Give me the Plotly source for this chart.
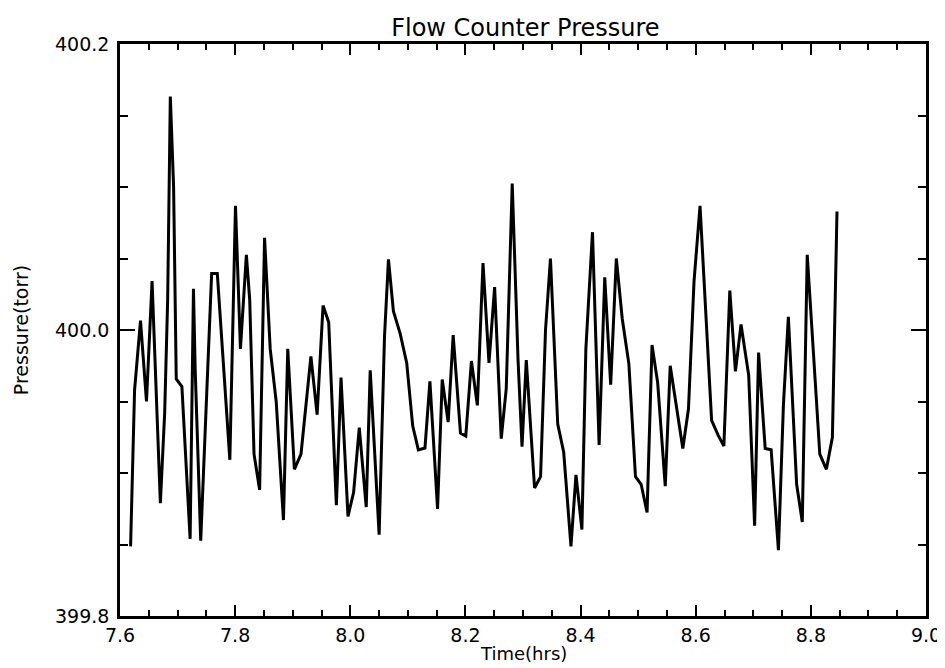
import plotly.graph_objects as go

time_hrs = [
    7.6184, 7.6253, 7.6356, 7.6460, 7.6557, 7.6701, 7.6776, 7.6828, 7.6874, 7.6931,
    7.6977, 7.7075, 7.7218, 7.7276, 7.7305, 7.7402, 7.7506, 7.7592, 7.7690, 7.7764,
    7.7908, 7.8006, 7.8092, 7.8195, 7.8253, 7.8328, 7.8425, 7.8511, 7.8609, 7.8713,
    7.8839, 7.8914, 7.9029, 7.9144, 7.9316,
    7.9424, 7.9527, 7.9625, 7.9758, 7.9839, 7.9960, 8.0058, 8.0156, 8.0277, 8.0346,
    8.0501, 8.0594, 8.0663, 8.0749, 8.0865, 8.0980, 8.1084, 8.1182, 8.1297, 8.1383,
    8.1516, 8.1597, 8.1700, 8.1787, 8.1914, 8.2006, 8.2104, 8.2207, 8.2305, 8.2409,
    8.2507, 8.2622, 8.2709, 8.2813,
    8.2914, 8.2983, 8.3057, 8.3201, 8.3305, 8.3391, 8.3477, 8.3603, 8.3707, 8.3833,
    8.3920, 8.4023, 8.4092, 8.4207, 8.4322, 8.4420, 8.4523, 8.4621, 8.4724, 8.4839,
    8.4954, 8.5052, 8.5155, 8.5241, 8.5339, 8.5471, 8.5557, 8.5672, 8.5776, 8.5874,
    8.5971, 8.6075, 8.6276, 8.6391,
    8.6489, 8.6592, 8.6690, 8.6787, 8.6920, 8.7023, 8.7092, 8.7207, 8.7310, 8.7437,
    8.7523, 8.7609, 8.7753, 8.7851, 8.7937, 8.8098, 8.8155, 8.8270, 8.8374, 8.8454,
]

pressure_torr = [
    399.8487, 399.9579, 400.0066, 399.9500, 400.0342, 399.8789, 399.9421, 400.0211, 400.1632, 400.1000,
    399.9658, 399.9605, 399.8539, 400.0289, 399.9737, 399.8526, 399.9553, 400.0395, 400.0395, 399.9947,
    399.9092, 400.0868, 399.9868, 400.0526, 400.0211, 399.9132, 399.8882, 400.0645, 399.9868, 399.9500,
    399.8671, 399.9868, 399.9026, 399.9132, 399.9816,
    399.9408, 400.0171, 400.0054, 399.8775, 399.9667, 399.8697, 399.8865, 399.9317, 399.8762, 399.9718,
    399.8568, 399.9951, 400.0494, 400.0132, 399.9977, 399.9770, 399.9330, 399.9162, 399.9175, 399.9641,
    399.8749, 399.9654, 399.9356, 399.9964, 399.9279, 399.9258, 399.9783, 399.9473, 400.0468, 399.9770,
    400.0300, 399.9240, 399.9589, 400.1024,
    399.9789, 399.9184, 399.9789, 399.8895, 399.8974, 400.0000, 400.0500, 399.9342, 399.9145, 399.8487,
    399.8987, 399.8605, 399.9868, 400.0684, 399.9197, 400.0368, 399.9618, 400.0500, 400.0079, 399.9763,
    399.8974, 399.8921, 399.8724, 399.9895, 399.9632, 399.8908, 399.9750, 399.9447, 399.9171, 399.9447,
    400.0342, 400.0868, 399.9368, 399.9263,
    399.9189, 400.0276, 399.9711, 400.0039, 399.9684, 399.8632, 399.9842, 399.9171, 399.9163, 399.8461,
    399.9474, 400.0092, 399.8921, 399.8658, 400.0526, 399.9500, 399.9132, 399.9026, 399.9250, 400.0829,
]

x_tick_vals = [7.6, 7.8, 8.0, 8.2, 8.4, 8.6, 8.8, 9.0]
x_tick_text = ["7.6", "7.8", "8.0", "8.2", "8.4", "8.6", "8.8", "9.0"]
y_tick_vals = [399.8, 400.0, 400.2]
y_tick_text = ["399.8", "400.0", "400.2"]

FONT = "DejaVu Sans, Liberation Sans, sans-serif"

fig = go.Figure()
fig.add_trace(go.Scatter(
    x=time_hrs, y=pressure_torr, mode="lines",
    line=dict(color="black", width=3),
    showlegend=False, hoverinfo="skip",
))

fig.update_layout(
    width=945, height=668,
    margin=dict(l=110, r=22, t=36, b=60),
    paper_bgcolor="white", plot_bgcolor="white",
    font=dict(family=FONT, color="black", size=18),
    title=dict(text="Flow Counter Pressure", x=0.5475, xanchor="center",
               y=0.970, yanchor="middle", font=dict(size=24, family=FONT)),
)

fig.add_annotation(
    text="Time(hrs)", xref="paper", yref="paper", x=0.5, y=-0.066,
    xanchor="center", yanchor="middle", showarrow=False,
    font=dict(size=18, family=FONT, color="black"),
)

fig.update_xaxes(
    range=[7.6, 9.0], tickmode="array", tickvals=x_tick_vals, ticktext=x_tick_text,
    ticks="inside", ticklen=11, tickwidth=2, tickcolor="black",
    minor=dict(dtick=0.05, tick0=7.6, ticks="inside", ticklen=6, tickwidth=2, tickcolor="black"),
    showline=True, linecolor="black", linewidth=2.5, mirror="ticks",
    showgrid=False, zeroline=False,
    tickfont=dict(size=19, family=FONT),
    ticklabelstandoff=0,
)
fig.update_yaxes(
    range=[399.8, 400.2], tickmode="array", tickvals=y_tick_vals, ticktext=y_tick_text,
    ticks="inside", ticklen=15, tickwidth=2, tickcolor="black",
    minor=dict(dtick=0.05, tick0=399.8, ticks="inside", ticklen=8, tickwidth=2, tickcolor="black"),
    showline=True, linecolor="black", linewidth=2.5, mirror="ticks",
    showgrid=False, zeroline=False,
    tickfont=dict(size=19, family=FONT),
    ticklabelstandoff=4,
    title=dict(text="Pressure(torr)", font=dict(size=19, family=FONT), standoff=22),
)

fig.write_html("out.html")
